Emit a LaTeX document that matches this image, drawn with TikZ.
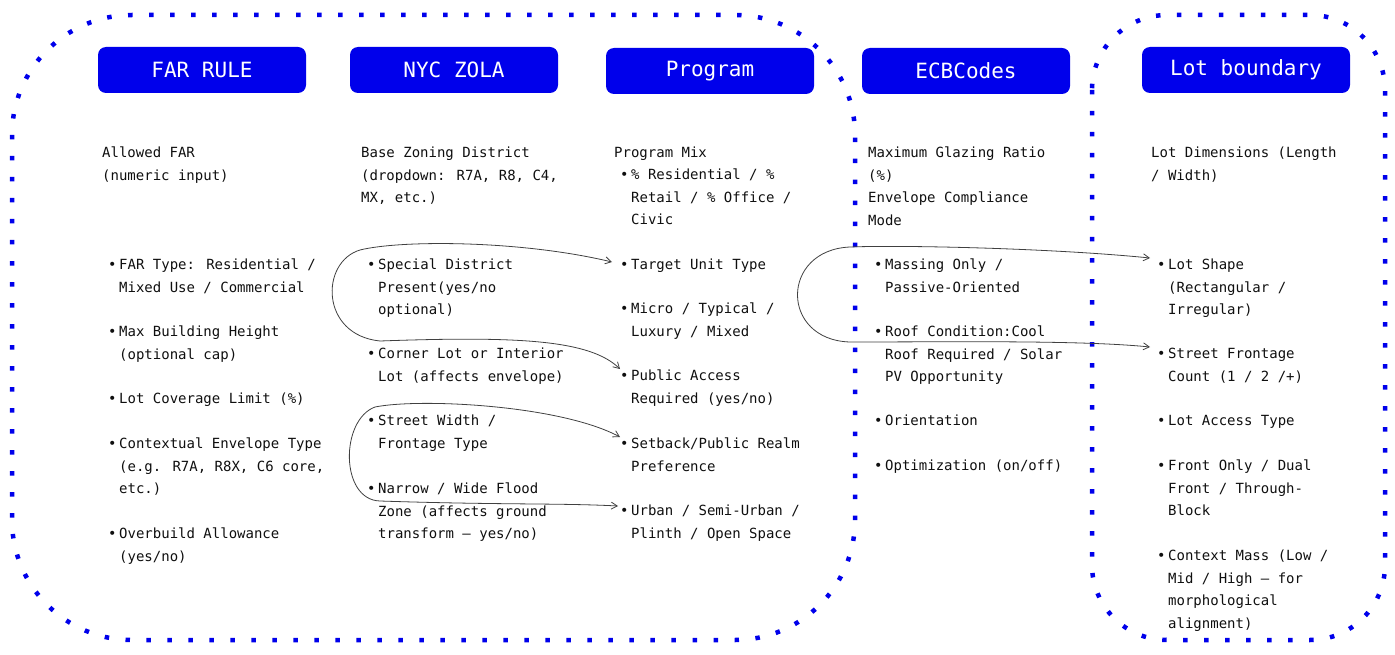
\documentclass[tikz,border=0pt]{standalone}
\usepackage{fontspec}
\setmainfont{DejaVu Sans Mono}
\usetikzlibrary{arrows.meta,calc}
\definecolor{pblue}{RGB}{0,0,235}
\definecolor{ink}{RGB}{15,15,15}
\begin{document}
\begin{tikzpicture}[x=1pt,y=-1pt,
  hdr/.style={fill=pblue,rounded corners=8pt,minimum width=208pt,minimum height=46pt,text=white,font=\fontsize{21}{24}\selectfont,inner sep=0},
  txt/.style={anchor=north west,inner sep=0,align=left,text=ink,font=\fontsize{14}{22.5}\selectfont},
  bul/.style={anchor=north west,inner sep=0,text=ink,font=\fontsize{14}{22.5}\selectfont},
  frame/.style={draw=pblue,line width=4.5pt,dash pattern=on 4.5pt off 16.5pt},
  conn/.style={draw=black!75,line width=0.8pt,{Straight Barb[length=6pt,width=7pt]}-{Straight Barb[length=6pt,width=7pt]}}]
\useasboundingbox (0,0) rectangle (1395,655);
\path[frame] (12,15) [rounded corners=120pt] rectangle (855,640);
\path[frame] (1092,15) [rounded corners=75pt] rectangle (1385,640);
\node[hdr] (h1) at (202,70) {FAR RULE};
\node[hdr] (h2) at (454,70) {NYC ZOLA};
\node[hdr] (h3) at (710,71) {Program};
\node[hdr] (h4) at (966,71) {ECBCodes};
\node[hdr] (h5) at (1246,70) {Lot boundary};
\newcommand{\itm}[4]{\node[bul] at (#1,#2-2) {•};\node[txt] (#4) at (#1+11,#2-5) {#3};}
% col1
\node[txt] (c1a) at (102,147) {Allowed FAR\\(numeric input)};
\itm{108}{264}{FAR Type: Residential /\\Mixed Use / Commercial}{c1b}
\itm{108}{331}{Max Building Height\\(optional cap)}{c1c}
\itm{108}{398}{Lot Coverage Limit (\%)}{c1d}
\itm{108}{443}{Contextual Envelope Type\\(e.g. R7A, R8X, C6 core,\\etc.)}{c1e}
\itm{108}{533}{Overbuild Allowance\\(yes/no)}{c1f}
% col2
\node[txt] (c2a) at (361,147) {Base Zoning District\\(dropdown: R7A, R8, C4,\\MX, etc.)};
\itm{367}{264}{Special District\\Present(yes/no\\optional)}{c2b}
\itm{367}{353}{Corner Lot or Interior\\Lot (affects envelope)}{c2c}
\itm{367}{420}{Street Width /\\Frontage Type}{c2d}
\itm{367}{488}{Narrow / Wide Flood\\Zone (affects ground\\transform — yes/no)}{c2e}
% col3
\node[txt] (c3a) at (614,147) {Program Mix};
\itm{620}{174}{\% Residential / \%\\Retail / \% Office /\\Civic}{c3b}
\itm{620}{264}{Target Unit Type}{c3c}
\itm{620}{308}{Micro / Typical /\\Luxury / Mixed}{c3d}
\itm{620}{375}{Public Access\\Required (yes/no)}{c3e}
\itm{620}{443}{Setback/Public Realm\\Preference}{c3f}
\itm{620}{510}{Urban / Semi-Urban /\\Plinth / Open Space}{c3g}
% col4
\node[txt] (c4a) at (868,147) {Maximum Glazing Ratio\\(\%)\\Envelope Compliance\\Mode};
\itm{874}{264}{Massing Only /\\Passive-Oriented}{c4b}
\itm{874}{331}{Roof Condition:Cool\\Roof Required / Solar\\PV Opportunity}{c4c}
\itm{874}{420}{Orientation}{c4d}
\itm{874}{465}{Optimization (on/off)}{c4e}
% col5
\node[txt] (c5a) at (1151,147) {Lot Dimensions (Length\\/ Width)};
\itm{1157}{264}{Lot Shape\\(Rectangular /\\Irregular)}{c5b}
\itm{1157}{353}{Street Frontage\\Count (1 / 2 /+)}{c5c}
\itm{1157}{420}{Lot Access Type}{c5d}
\itm{1157}{465}{Front Only / Dual\\Front / Through-\\Block}{c5e}
\itm{1157}{555}{Context Mass (Low /\\Mid / High — for\\morphological\\alignment)}{c5f}
% connectors
\coordinate (a1) at ($(c3c.north west)+(-19,3)$);
\coordinate (a2) at ($(c3e.north west)+(-11,-1)$);
\coordinate (b1) at ($(c3f.north west)+(-11,-1)$);
\coordinate (b2) at ($(c3g.north west)+(-13,1)$);
\coordinate (d1) at ($(c5b.north west)+(-18,-1)$);
\coordinate (d2) at ($(c5c.north west)+(-18,-1)$);
\draw[conn] (a1) .. controls (520,240) and (400,240) .. (360,250) .. controls (320,262) and (320,335) .. (380,341) .. controls (520,336) and (590,340) .. (a2);
\draw[conn] (b1) .. controls (560,405) and (420,398) .. (375,407) .. controls (340,420) and (340,500) .. (380,501) .. controls (500,505) and (560,503) .. (b2);
\draw[conn] (d1) .. controls (1050,248) and (900,245) .. (850,247) .. controls (780,250) and (780,340) .. (850,342) .. controls (950,342) and (1080,340) .. (d2);
\end{tikzpicture}
\end{document}
